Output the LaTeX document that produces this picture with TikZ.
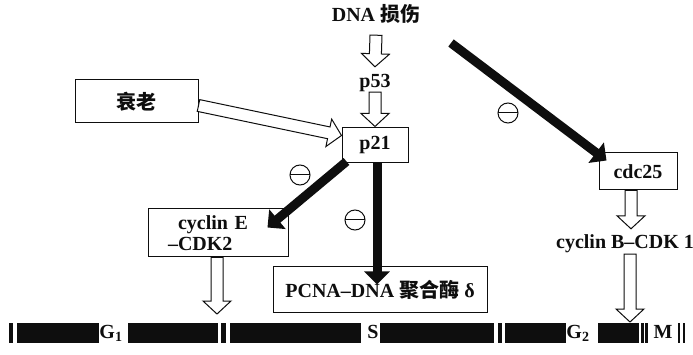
\documentclass[tikz,border=0pt]{standalone}
\usepackage{fontspec}
\setmainfont{Liberation Serif}
\newfontfamily\cjk{Noto Sans CJK SC}
\usepackage{tikz}
\usetikzlibrary{arrows.meta, calc, positioning}
\definecolor{inkblack}{RGB}{14,14,14}
\tikzset{
  plain/.style={
    font=\fontsize{20}{21}\selectfont\bfseries, text=inkblack,
    inner sep=0pt, text height=13pt, text depth=3pt
  },
  cellbox/.style={
    rectangle, draw=inkblack, line width=1pt, fill=white,
    font=\fontsize{20}{21}\selectfont\bfseries, text=inkblack
  },
  blockarrow/.style={-{Triangle[length=13pt, width=25pt]}, line width=9pt, color=inkblack},
  hollowline/.style={draw=inkblack, fill=white, line width=1pt, line join=miter},
  inhibit/.style={
    circle, draw=inkblack, line width=1pt, minimum size=20pt, inner sep=0pt,
    path picture={\draw[inkblack, line width=1pt]
      (path picture bounding box.west) -- (path picture bounding box.east);}
  },
  phasebar/.style={fill=inkblack}
}
\newcommand{\openarrow}[2]{%
  \coordinate (oa-base) at ($(#2)!13pt!(#1)$);
  \draw[hollowline] ($(#1)!6pt!90:(#2)$) -- ($(oa-base)!6pt!-90:(#1)$)
    -- ($(oa-base)!14pt!-90:(#1)$) -- (#2) -- ($(oa-base)!14pt!90:(#1)$)
    -- ($(oa-base)!6pt!90:(#1)$) -- ($(#1)!6pt!-90:(#2)$) -- cycle;
}

\begin{document}
\begin{tikzpicture}[x=1pt, y=-1pt]
    \fill[white] (0,0) rectangle (693,355);
    \useasboundingbox (0,0) rectangle (693,355);

    % signals and checkpoint proteins
    \node[plain] (dna) at (376,17) {DNA {\cjk 损伤}};
    \node[plain] (p53) at (375,83) {p53};
    \node[cellbox, minimum width=66pt, minimum height=35pt] (p21) at (375,145.5) {p21};
    \node[cellbox, minimum width=123pt, minimum height=43pt] (aging) at (136.5,101.5) {\cjk 衰老};
    \node[cellbox, minimum width=78pt, minimum height=37pt] (cdc) at (638,171.5) {cdc25};
    \node[cellbox, minimum width=140pt, minimum height=48pt, text width=100pt,
      inner xsep=20pt, align=left] (cyce) at (218,233) {\hspace*{10pt}cyclin E\\--CDK2};
    \node[cellbox, minimum width=214pt, minimum height=45pt] (pcna) at (380,289.5)
      {PCNA--DNA {\cjk 聚合酶} δ};
    \node[plain] (cycb) at (625,244) {cyclin B--CDK 1};
    \coordinate (dmg) at (451,43);

    \node[inhibit] (inh1) at (300,175) {};
    \node[inhibit] (inh2) at (355,220) {};
    \node[inhibit] (inh3) at (508,113) {};

    % cell cycle bar
    \foreach \a/\b in {9/13, 17/99, 128/218, 221/226, 230/361, 380/494, 498/502,
      505/566, 598/639, 641/644, 645/648, 678/680, 683/685}
      \fill[phasebar] (\a,323) rectangle (\b,343);
    \node[plain] (g1) at (111,333) {G\textsubscript{1}};
    \node[plain] (s)  at (373,333) {S};
    \node[plain] (g2) at (578,333) {G\textsubscript{2}};
    \node[plain] (m)  at (663,333) {M};
    \coordinate (g1in) at (217,314);
    \coordinate (min) at (630,322);

    % activating arrows
    \openarrow{[yshift=-10pt]dna.south}{[yshift=8pt]p53.north}
    \openarrow{[yshift=-1pt]p53.south}{[yshift=1pt]p21.north}
    \openarrow{[yshift=-4pt]aging.east}{[yshift=10pt]p21.west}
    \openarrow{[xshift=-7pt]cdc.south}{[xshift=6pt, yshift=7pt]cycb.north}
    \openarrow{[xshift=-1pt]cyce.south}{g1in}
    \openarrow{[xshift=5pt, yshift=-2pt]cycb.south}{min}

    % inhibiting arrows
    \draw[blockarrow] (dmg) -- ([xshift=8pt, yshift=-8pt]cdc.north west);
    \draw[blockarrow] ([xshift=5pt, yshift=2pt]p21.south west) -- ([xshift=-21pt, yshift=-19pt]cyce.north east);
    \draw[blockarrow] ([xshift=2pt]p21.south) -- ([xshift=-3pt, yshift=-18pt]pcna.north);
\end{tikzpicture}
\end{document}
